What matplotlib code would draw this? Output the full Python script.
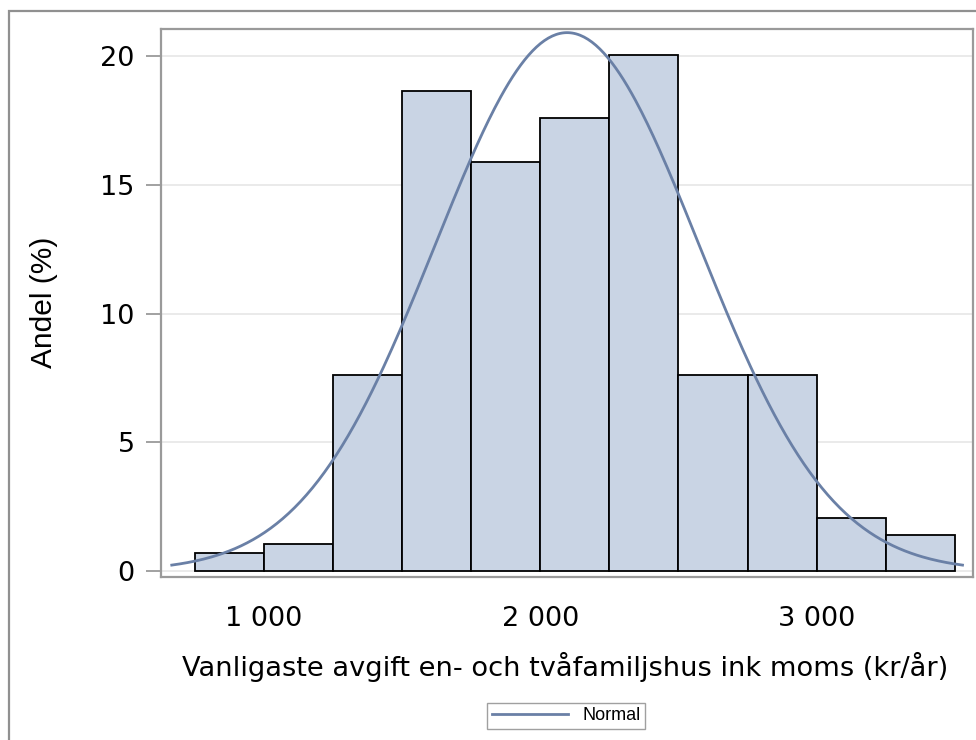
import numpy as np
import matplotlib
matplotlib.use("Agg")
import matplotlib.pyplot as plt
from matplotlib.patches import Rectangle
from matplotlib.ticker import FuncFormatter

# histogram bins (kr/år) and share of each bin (%)
bin_edges = [750, 1000, 1250, 1500, 1750, 2000, 2250, 2500, 2750, 3000, 3250, 3500]
shares = [0.70, 1.05, 7.62, 18.64, 15.87, 17.60, 20.03, 7.62, 7.62, 2.08, 1.40]

# fitted normal curve
mu = 2097
sigma = 477

fill_col = "#C9D4E4"
line_col = "#6A80A6"
grey = "#9A9A9A"

fig = plt.figure(figsize=(9.76, 7.4), dpi=100)
ax = fig.add_axes([161/976, 1 - 577/740, 812/976, 548/740])

# outer border (top and left visible)
fig.patches.append(Rectangle((9/976, -0.5), 1.5, 1.5 - 11/740,
                             transform=fig.transFigure, fill=False,
                             edgecolor="#909090", linewidth=1.6, clip_on=False))

lefts = bin_edges[:-1]
widths = np.diff(bin_edges)
ax.bar(lefts, shares, width=widths, align="edge", color=fill_col,
       edgecolor="black", linewidth=1.3, zorder=2)

bw = widths[0]
xs = np.linspace(mu - 3 * sigma, mu + 3 * sigma, 400)
ys = 100 * bw / (sigma * np.sqrt(2 * np.pi)) * np.exp(-0.5 * ((xs - mu) / sigma) ** 2)
ax.plot(xs, ys, color=line_col, linewidth=2.0, zorder=3, label="Normal")

ax.set_xlim(627, 3566)
ax.set_ylim(-0.23, 21.05)
ax.set_xticks([1000, 2000, 3000])
ax.set_yticks([0, 5, 10, 15, 20])
ax.xaxis.set_major_formatter(FuncFormatter(lambda v, p: f"{int(v):,}".replace(",", " ")))

ax.grid(axis="y", color="#E6E6E6", linewidth=1.2, zorder=0)
ax.set_axisbelow(True)
for s in ax.spines.values():
    s.set_color(grey)
    s.set_linewidth(1.6)

ax.tick_params(axis="y", length=11, width=1.3, color=grey, pad=8, labelsize=19.5)
ax.tick_params(axis="x", length=0, pad=21, labelsize=19.5)

ax.set_xlabel("Vanligaste avgift en- och tvåfamiljshus ink moms (kr/år)", fontsize=19.6)
ax.xaxis.set_label_coords(0.4975, -0.137)
ax.set_ylabel("Andel (%)", fontsize=21.5, family="Liberation Sans")
ax.yaxis.set_label_coords(-0.127, 0.502)

leg = fig.legend(loc="center", bbox_to_anchor=(566/976, 1 - 716/740), ncol=1,
                 fancybox=False, framealpha=1, edgecolor="#A0A0A0",
                 prop={"family": "Liberation Sans", "size": 13},
                 handlelength=4.2, borderpad=0.25, handletextpad=0.8)
leg.get_frame().set_linewidth(1.0)

fig.savefig("out.png", dpi=100)
